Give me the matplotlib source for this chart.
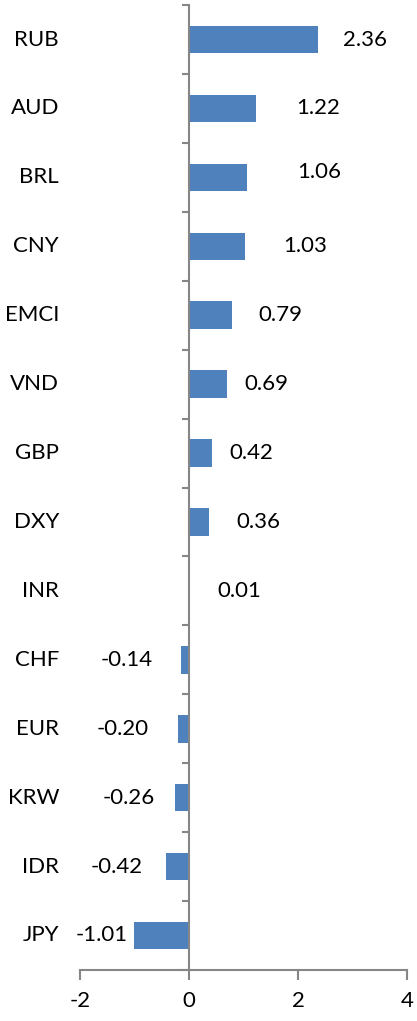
import numpy as np
import matplotlib.pyplot as plt
import matplotlib.transforms as mtransforms
from matplotlib.ticker import FixedLocator

currencies = ["RUB", "AUD", "BRL", "CNY", "EMCI", "VND", "GBP", "DXY",
              "INR", "CHF", "EUR", "KRW", "IDR", "JPY"]
changes = [2.36, 1.22, 1.06, 1.03, 0.79, 0.69, 0.42, 0.36,
           0.01, -0.14, -0.20, -0.26, -0.42, -1.01]
x_ticks = [-2, 0, 2, 4]

# gap (pixels) between bar end and its value label, as placed in the original
label_gap = [25, 41, 50, 38, 26, 18, 17, 28, 28, 29, 29, 20, 23, 6]
label_dy = [0, 0, 5, 0, 0, 0, 0, 0, 0, 0, 0, 0, 0, 0]

plt.rcParams['font.family'] = ['Lato', 'DejaVu Sans']
FS = 16

fig = plt.figure(figsize=(4.17, 10.21), dpi=100)
ax = fig.add_axes([0.192, 0.05, 0.784, 0.945])

y = np.arange(len(currencies))
ax.barh(y, changes, height=0.4, color='#4F81BD', linewidth=0)

ax.set_xlim(-2, 4)
ax.set_ylim(len(currencies) - 0.5, -0.5)

grey = '#868686'
for side in ['top', 'right']:
    ax.spines[side].set_visible(False)
ax.spines['left'].set_position(('data', 0))
for side in ['left', 'bottom']:
    ax.spines[side].set_color(grey)
    ax.spines[side].set_linewidth(1.5)
ax.spines['left'].set_zorder(3)

ax.xaxis.set_major_locator(FixedLocator(x_ticks))
ax.set_xticklabels([str(t) for t in x_ticks])
ax.tick_params(axis='x', direction='out', length=7, width=1.5, color=grey,
               labelsize=FS, pad=8)

ax.set_yticks([])
ax.yaxis.set_minor_locator(FixedLocator(np.arange(-0.5, len(currencies), 1.0)))
ax.tick_params(axis='y', which='minor', direction='out', length=5, width=1.5, color=grey)

# category labels at the low end of the axis
trans = mtransforms.blended_transform_factory(ax.transAxes, ax.transData)
for yi, name in zip(y, currencies):
    ax.annotate(name, xy=(0, yi), xycoords=trans, xytext=(-21, 0),
                textcoords='offset pixels', ha='right', va='center', fontsize=FS)

for yi, v, g, dy in zip(y, changes, label_gap, label_dy):
    ax.annotate(f"{v:.2f}", xy=(v, yi), xytext=(g if v >= 0 else -g, dy),
                textcoords='offset pixels', ha='left' if v >= 0 else 'right',
                va='center', fontsize=FS)

fig.savefig('out.png', dpi=100)
